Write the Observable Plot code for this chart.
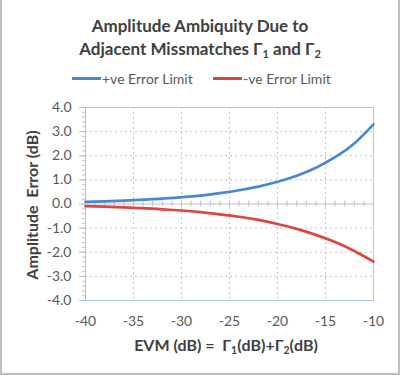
<!DOCTYPE html>
<html><head><meta charset="utf-8">
<script src="https://cdn.jsdelivr.net/npm/d3@7"></script>
<script src="https://cdn.jsdelivr.net/npm/@observablehq/plot@0.6"></script>
<style>
body{margin:0;background:#fff;}
#wrap{position:relative;width:400px;height:375px;overflow:hidden;font-family:Lato,"Open Sans",sans-serif;background:#fff;}
#border{position:absolute;left:0;top:0;width:400px;height:375px;box-sizing:border-box;border:2px solid #bdbdbd;border-top:none;pointer-events:none;z-index:5}
#chart{position:absolute;left:0;top:0;}
.title{position:absolute;left:0;width:400px;text-align:center;font-weight:bold;font-size:17px;color:#404040;line-height:23px;top:14px;z-index:3}
.title sub,.xt sub{font-size:0.65em;vertical-align:-0.25em;line-height:0}
.legend{position:absolute;top:69px;left:0;width:400px;font-size:14px;color:#595959;z-index:3}
.legend .item{position:absolute;top:0;display:flex;align-items:center;height:18px}
.legend .sw{display:inline-block;width:29px;height:3px;margin-right:1px}
.xt{position:absolute;top:335px;left:0;width:400px;text-align:center;padding-left:52px;box-sizing:border-box;font-weight:bold;font-size:16px;color:#404040;z-index:3;white-space:pre}
.yt{position:absolute;left:31px;top:205px;transform:translate(-50%,-50%) rotate(-90deg);white-space:pre;font-weight:bold;font-size:16px;color:#404040;z-index:3}
</style></head>
<body>
<div id="wrap">
  <div id="chart"></div>
  <div class="title">Amplitude Ambiquity Due to<br>Adjacent Missmatches Γ<sub>1</sub> and Γ<sub>2</sub></div>
  <div class="legend">
    <div class="item" style="left:72px"><span class="sw" style="background:#4a86d8"></span>+ve Error Limit</div>
    <div class="item" style="left:213px"><span class="sw" style="background:#e0443e"></span>-ve Error Limit</div>
  </div>
  <div class="yt">Amplitude  Error (dB)</div>
  <div class="xt">EVM (dB) =  Γ<sub>1</sub>(dB)+Γ<sub>2</sub>(dB)</div>
  <div id="border"></div>
</div>
<script>
// Data
const evm    = [-40, -38, -36, -34, -32, -30, -28, -26, -24, -22, -20, -18, -16, -14, -12, -10];
const posErr = [0.09, 0.11, 0.14, 0.18, 0.22, 0.28, 0.35, 0.45, 0.57, 0.72, 0.92, 1.17, 1.50, 1.94, 2.51, 3.30];
const negErr = [-0.09, -0.11, -0.14, -0.17, -0.22, -0.27, -0.34, -0.43, -0.53, -0.66, -0.83, -1.03, -1.28, -1.58, -1.95, -2.39];
const xTicks = [-40, -35, -30, -25, -20, -15, -10];
const yTicks = [-4, -3, -2, -1, 0, 1, 2, 3, 4];
const xGrid = [-35, -30, -25, -20, -15];
const yGrid = [-3, -2, -1, 1, 2, 3];
const xMinor = d3.range(-39, -10, 1);
const yMinor = d3.range(-40, 41, 2).map(d => d / 10);

const pos = evm.map((x, i) => ({x, y: posErr[i]}));
const neg = evm.map((x, i) => ({x, y: negErr[i]}));

const grid = {stroke: "#c4c4c4", strokeOpacity: 1, strokeDasharray: "2,3"};
const chart = Plot.plot({
  width: 400, height: 375,
  marginTop: 107, marginBottom: 75, marginLeft: 85, marginRight: 27,
  style: {background: "transparent", fontFamily: "Lato, 'Open Sans', sans-serif", fontSize: "14px", color: "#595959"},
  x: {domain: [-40, -10]},
  y: {domain: [-4, 4]},
  marks: [
    Plot.gridY(yGrid, grid),
    Plot.gridX(xGrid, grid),
    Plot.ruleY([0], {stroke: "#bfbfbf", strokeWidth: 1.2}),
    Plot.ruleX(xMinor, {y1: 0, y2: 0, insetTop: -3, insetBottom: -3, stroke: "#bfbfbf"}),
    Plot.frame({stroke: "#a9c9ef"}),
    Plot.ruleX([xTicks[0]], {stroke: "#bfbfbf"}),
    Plot.axisY(yMinor, {tickSize: 3, tickFormat: () => "", stroke: "#bfbfbf", label: null}),
    Plot.axisY(yTicks, {tickSize: 6, tickPadding: 8, tickFormat: d => d.toFixed(1), stroke: "#bfbfbf", fill: "#595959", fontSize: 14, label: null}),
    Plot.axisX(xTicks, {tickSize: 0, tickPadding: 16, tickFormat: d => String(d), fill: "#595959", fontSize: 14, label: null}),
    Plot.line(pos, {x: "x", y: "y", stroke: "#4a86d8", strokeWidth: 2.7, curve: "natural"}),
    Plot.line(neg, {x: "x", y: "y", stroke: "#e0443e", strokeWidth: 2.7, curve: "natural"})
  ]
});
document.getElementById("chart").appendChild(chart);
</script>
</body></html>
